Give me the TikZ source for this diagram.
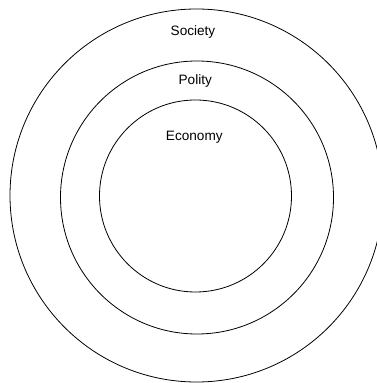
\documentclass[tikz,border=0pt]{standalone}
\usepackage{fontspec}
\setmainfont{Liberation Sans}
\usepackage{tikz}
\usetikzlibrary{positioning}

\begin{document}
\begin{tikzpicture}[
  x=1pt, y=1pt,
  font=\fontsize{13.6}{16}\selectfont,
  ring/.style={circle, draw, line width=0.8pt, inner sep=0pt},
  sphere/.style={anchor=base, inner sep=0pt}
]
\useasboundingbox (0,0) rectangle (376,383);
\node[ring, minimum size=373pt] (society) at (196.5,187.5) {};
\node[ring, minimum size=273pt] (polity) at (197,185.5) {};
\node[ring, minimum size=192pt] (economy) at (195.5,187) {};

\node[sphere] (societylbl) at (193,347) {Society};
\node[sphere] (politylbl) at (195.3,298.7) {Polity};
\node[sphere] (economylbl) at (194.3,242.3) {Economy};
\end{tikzpicture}
\end{document}
